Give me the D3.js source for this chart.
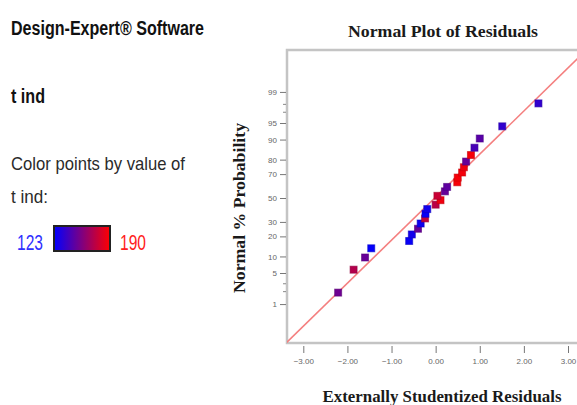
<!DOCTYPE html>
<html>
<head>
<meta charset="utf-8">
<script src="https://cdn.jsdelivr.net/npm/d3@7"></script>
<style>
  body { margin: 0; background: #fff; }
  svg { display: block; }
</style>
</head>
<body>
<div id="vis"></div>
<script>
const FRAME_WIDTH = 577;
const FRAME_HEIGHT = 405;
const PLOT = {left: 287, right: 582, top: 50, bottom: 343};

// residuals (x), normal % probability (y) and t ind value (colour)
const residuals = [-2.21, -1.86, -1.60, -1.46, -0.60, -0.54, -0.40, -0.34, -0.24, -0.23, -0.19,
                   0.00, 0.11, 0.04, 0.21, 0.26, 0.49, 0.50, 0.60, 0.64, 0.69, 0.80, 0.88, 1.00,
                   1.51, 2.33];
const probabilities = [1.9, 5.8, 9.6, 13.5, 17.3, 21.2, 25.0, 28.8, 32.7, 36.5, 40.4,
                       44.2, 48.1, 51.9, 55.8, 59.6, 63.5, 67.3, 71.2, 75.0, 78.8, 82.7, 86.5, 90.4,
                       94.2, 98.1];
const tind = [152, 170, 150, 124, 125, 128, 150, 127, 174, 125, 128,
              172, 186, 176, 150, 148, 188, 188, 187, 186, 150, 188, 142, 146,
              136, 136];

const xTicks = [-3, -2, -1, 0, 1, 2, 3];
const yTicks = [1, 5, 10, 20, 30, 50, 70, 80, 90, 95, 99];
const yMinor = [2, 3, 97, 98];
const tindRange = [123, 190];
// reference line: z = slope * residual + intercept
const fitSlope = 0.944;
const fitIntercept = 0.02;

// inverse normal cdf (Acklam)
function probit(p) {
  const a = [-39.69683028665376, 220.9460984245205, -275.9285104469687, 138.3577518672690, -30.66479806614716, 2.506628277459239];
  const b = [-54.47609879822406, 161.5858368580409, -155.6989798598866, 66.80131188771972, -13.28068155288572];
  const c = [-0.007784894002430293, -0.3223964580411365, -2.400758277161838, -2.549732539343734, 4.374664141464968, 2.938163982698783];
  const d = [0.007784695709041462, 0.3224671290700398, 2.445134137142996, 3.754408661907416];
  const pl = 0.02425;
  let q, r;
  if (p < pl) {
    q = Math.sqrt(-2 * Math.log(p));
    return (((((c[0]*q+c[1])*q+c[2])*q+c[3])*q+c[4])*q+c[5]) / ((((d[0]*q+d[1])*q+d[2])*q+d[3])*q+1);
  }
  if (p > 1 - pl) {
    q = Math.sqrt(-2 * Math.log(1 - p));
    return -(((((c[0]*q+c[1])*q+c[2])*q+c[3])*q+c[4])*q+c[5]) / ((((d[0]*q+d[1])*q+d[2])*q+d[3])*q+1);
  }
  q = p - 0.5; r = q * q;
  return (((((a[0]*r+a[1])*r+a[2])*r+a[3])*r+a[4])*r+a[5])*q / (((((b[0]*r+b[1])*r+b[2])*r+b[3])*r+b[4])*r+1);
}

const svg = d3.select("#vis")
  .append("svg")
    .attr("width", FRAME_WIDTH)
    .attr("height", FRAME_HEIGHT);

// ---- left info panel
const panel = svg.append("g").attr("font-family", "'Liberation Sans Narrow', 'Liberation Sans', Arial, sans-serif");
panel.append("text").attr("x", 11).attr("y", 35)
  .attr("font-size", 20).attr("font-weight", "bold").attr("fill", "#111")
  .attr("textLength", 193).attr("lengthAdjust", "spacingAndGlyphs")
  .text("Design-Expert® Software");
panel.append("text").attr("x", 11).attr("y", 103)
  .attr("font-size", 21).attr("font-weight", "bold").attr("fill", "#111")
  .attr("textLength", 34).attr("lengthAdjust", "spacingAndGlyphs")
  .text("t ind");
panel.append("text").attr("x", 11).attr("y", 170)
  .attr("font-size", 19).attr("fill", "#2a2a2a")
  .attr("textLength", 174).attr("lengthAdjust", "spacingAndGlyphs")
  .text("Color points by value of");
panel.append("text").attr("x", 11).attr("y", 203)
  .attr("font-size", 19).attr("fill", "#2a2a2a")
  .attr("textLength", 37).attr("lengthAdjust", "spacingAndGlyphs")
  .text("t ind:");

const color = d3.scaleLinear().domain(tindRange).range(["#0000ff", "#ff0000"]).interpolate(d3.interpolateRgb);

const grad = svg.append("defs").append("linearGradient").attr("id", "tgrad");
grad.append("stop").attr("offset", "0%").attr("stop-color", color(tindRange[0]));
grad.append("stop").attr("offset", "100%").attr("stop-color", color(tindRange[1]));

panel.append("text").attr("x", 17).attr("y", 250)
  .attr("font-size", 22).attr("fill", "#3030ff")
  .attr("textLength", 26).attr("lengthAdjust", "spacingAndGlyphs")
  .text(tindRange[0]);
panel.append("rect").attr("x", 54).attr("y", 226).attr("width", 56).attr("height", 25)
  .attr("fill", "url(#tgrad)").attr("stroke", "#222").attr("stroke-width", 2);
panel.append("text").attr("x", 120).attr("y", 250)
  .attr("font-size", 22).attr("fill", "#ff2020")
  .attr("textLength", 26).attr("lengthAdjust", "spacingAndGlyphs")
  .text(tindRange[1]);

// ---- scales
const x_scale = d3.scaleLinear().domain([-3, 3]).range([303.3, 568]);
const y_scale = d3.scaleLinear().domain([-3.18, 3.246]).range([PLOT.bottom, PLOT.top]);

svg.append("clipPath").attr("id", "plotclip")
  .append("rect").attr("x", PLOT.left).attr("y", PLOT.top)
  .attr("width", PLOT.right - PLOT.left).attr("height", PLOT.bottom - PLOT.top);

// frame
svg.append("rect").attr("x", PLOT.left).attr("y", PLOT.top)
  .attr("width", PLOT.right - PLOT.left).attr("height", PLOT.bottom - PLOT.top)
  .attr("fill", "none").attr("stroke", "#c4c4c4").attr("stroke-width", 2.5);

// x axis
const xAxis = svg.append("g")
  .attr("transform", `translate(0, ${PLOT.bottom + 3})`)
  .call(d3.axisBottom(x_scale).tickValues(xTicks).tickFormat(d3.format(".2f")).tickSize(7).tickPadding(5));
xAxis.select(".domain").remove();
xAxis.selectAll("line").attr("stroke", "#777");
xAxis.selectAll("text").attr("fill", "#666").attr("font-size", 8)
  .attr("font-family", "'Liberation Sans', Arial, sans-serif");

// y axis
const yAxis = svg.append("g")
  .attr("transform", `translate(${PLOT.left - 1}, 0)`)
  .call(d3.axisLeft(y_scale).tickValues(yTicks.map(p => probit(p / 100)))
    .tickFormat((d, i) => yTicks[i]).tickSize(6).tickPadding(3));
yAxis.select(".domain").remove();
yAxis.selectAll("line").attr("stroke", "#777");
yAxis.selectAll("text").attr("fill", "#666").attr("font-size", 8)
  .attr("font-family", "'Liberation Sans', Arial, sans-serif");
svg.append("g").selectAll("line")
  .data(yMinor)
  .join("line")
    .attr("x1", PLOT.left - 4).attr("x2", PLOT.left - 1)
    .attr("y1", d => y_scale(probit(d / 100))).attr("y2", d => y_scale(probit(d / 100)))
    .attr("stroke", "#888");

// reference line
const lineX = [-3.5, 3.5];
svg.append("path")
  .attr("clip-path", "url(#plotclip)")
  .attr("fill", "none").attr("stroke", "#f47f7f").attr("stroke-width", 1.6)
  .attr("d", d3.line()
    .x(d => x_scale(d))
    .y(d => y_scale(fitSlope * d + fitIntercept))(lineX));

// points
const pts = residuals.map((r, i) => ({r: r, p: probabilities[i], t: tind[i]}));
svg.append("g").selectAll("rect")
  .data(pts)
  .join("rect")
    .attr("x", d => x_scale(d.r) - 3.5)
    .attr("y", d => y_scale(probit(d.p / 100)) - 3.5)
    .attr("width", 7).attr("height", 7)
    .attr("fill", d => color(d.t))
    .attr("stroke", d => d3.color(color(d.t)).darker(0.6))
    .attr("stroke-opacity", 0.6)
    .attr("stroke-width", 1);

// titles
const serif = "'Liberation Serif', 'Times New Roman', serif";
svg.append("text").attr("x", 443).attr("y", 37).attr("text-anchor", "middle")
  .attr("font-family", serif).attr("font-weight", "bold").attr("font-size", 16.5).attr("fill", "#1a1a1a")
  .attr("textLength", 190).attr("lengthAdjust", "spacingAndGlyphs")
  .text("Normal Plot of Residuals");
svg.append("text").attr("x", 442).attr("y", 402).attr("text-anchor", "middle")
  .attr("font-family", serif).attr("font-weight", "bold").attr("font-size", 16.5).attr("fill", "#1a1a1a")
  .attr("textLength", 239).attr("lengthAdjust", "spacingAndGlyphs")
  .text("Externally Studentized Residuals");
svg.append("text")
  .attr("transform", "translate(245, 208) rotate(-90)")
  .attr("text-anchor", "middle")
  .attr("font-family", serif).attr("font-weight", "bold").attr("font-size", 16.5).attr("fill", "#1a1a1a")
  .attr("textLength", 170).attr("lengthAdjust", "spacingAndGlyphs")
  .text("Normal % Probability");
</script>
</body>
</html>
